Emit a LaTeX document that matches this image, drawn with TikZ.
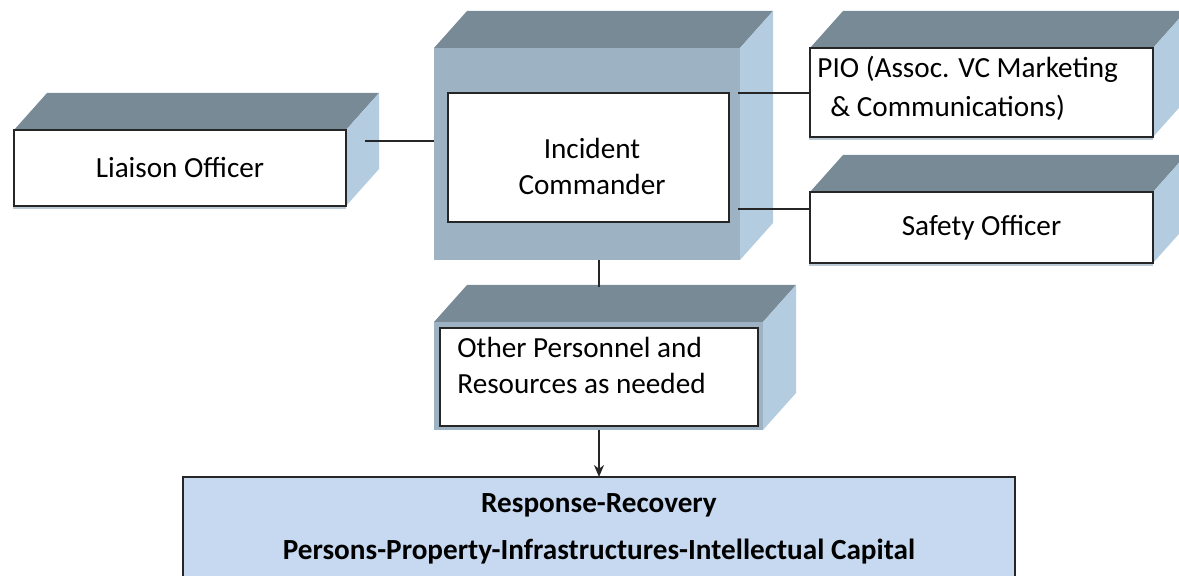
\documentclass[tikz,border=0pt]{standalone}
\usepackage{fontspec}
\setmainfont{Carlito}
\usepackage{tikz}
\usetikzlibrary{arrows.meta,backgrounds}

\definecolor{topgray}{HTML}{798A97}
\definecolor{frontblue}{HTML}{9DB3C4}
\definecolor{sideblue}{HTML}{B3CCDF}
\definecolor{basefill}{HTML}{C6D9F0}

\begin{document}
\begin{tikzpicture}
        [x=0.5pt,y=-0.5pt,>={Stealth[length=6pt,width=5pt]},
        base node/.style={rectangle,draw=black!85,line width=0.6pt,inner sep=0pt,outer sep=0pt,fill=white,font=\fontsize{14.6}{18}\selectfont},
        outer node/.style={base node,fill=frontblue,draw=none},
        txt/.style={inner sep=0pt,font=\fontsize{14.6}{18}\selectfont,align=left},
        link/.style={line width=1pt,draw=black!85},
        top face/.style={fill=topgray},
        side face/.style={fill=sideblue}]
    
    \useasboundingbox (0,0) rectangle (1179,576);
    
    \node[base node,minimum width=166pt,minimum height=38pt] (lo) at (180,168) {Liaison Officer};
    \node[outer node,minimum width=153pt,minimum height=106pt] (ic) at (587,154) {};
    \node[base node,minimum width=140.5pt,minimum height=64.5pt] (icin) at (588.5,157.5) {};
    \node[txt,align=center] (ictxt) at (592,166) {Incident\\Commander};
    \node[base node,minimum width=171.5pt,minimum height=44.5pt] (pio) at (981.5,92.5) {};
    \node[txt,anchor=west,font=\fontsize{14.6}{19.5}\selectfont] (piotxt) at (817,88) {PIO (Assoc. VC Marketing\\\hspace*{6.5pt}\& Communications)};
    \node[base node,minimum width=171.5pt,minimum height=35.5pt] (so) at (981.5,227.5) {Safety Officer};
    \node[outer node,minimum width=164.5pt,minimum height=54pt] (op) at (598.5,376) {};
    \node[base node,minimum width=159pt,minimum height=49pt] (opin) at (599,377) {};
    \node[txt,anchor=west] (optxt) at (457,365) {Other Personnel and\\Resources as needed};
    \node[base node,fill=basefill,minimum width=416pt,minimum height=61.5pt] (rr) at (599,538.5) {};
    \node[txt,align=center,font=\fontsize{14.6}{23.5}\selectfont\bfseries] (rrtxt) at (599,529) {Response-Recovery\\Persons-Property-Infrastructures-Intellectual Capital};
    
    % box depth
    \begin{scope}[on background layer]
    \foreach \b in {lo,ic,pio,so,op}{
        \fill[top face] (\b.north west) -- ++(33,-37) -- ([shift={(33,-37)}]\b.north east) -- (\b.north east) -- cycle;
        \fill[side face] (\b.north east) -- ++(33,-37) -- ([shift={(33,-37)}]\b.south east) -- (\b.south east) -- cycle;
    }
    \foreach \b in {lo,pio,so}
        \fill[frontblue!70] ([shift={(-1,0)}]\b.north west) rectangle ([shift={(0,3)}]\b.south east);
    \end{scope}
    
    \coordinate (lo-r) at (365,141);
    \coordinate (ic-r1) at (738,93);
    \coordinate (ic-r2) at (738,209);
    \coordinate (op-top) at (599,287);
    
    \draw[link] (lo-r) -- (lo-r -| ic.west);
    \draw[link] (ic-r1) -- (ic-r1 -| pio.west);
    \draw[link] (ic-r2) -- (ic-r2 -| so.west);
    \draw[link] (ic.south -| op-top) -- (op-top);
    \draw[link,->] (op.south -| rr.north) -- (rr.north);
    
\end{tikzpicture}
\end{document}
